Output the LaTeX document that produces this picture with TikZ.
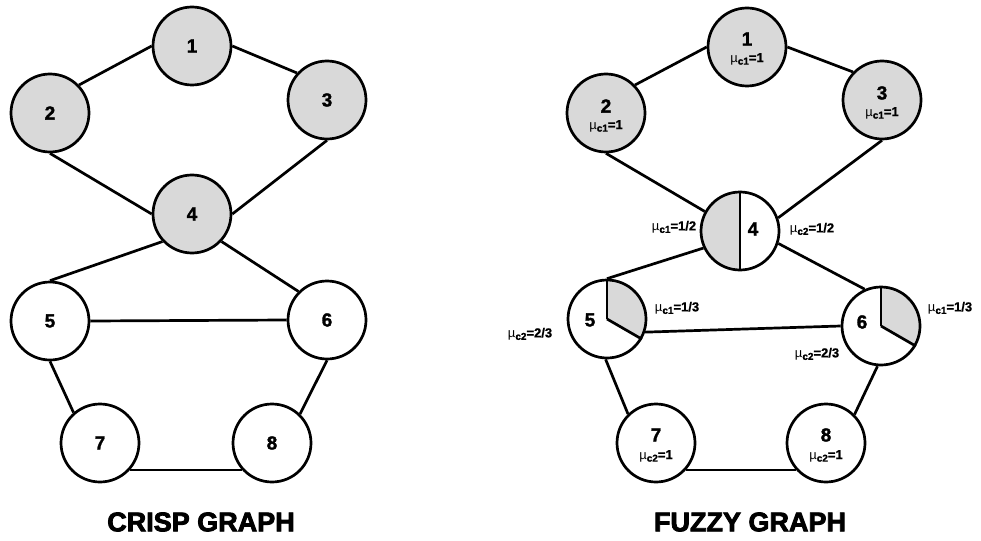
\documentclass[tikz,border=0pt]{standalone}
\usepackage{fontspec}
\setmainfont{Liberation Sans}
\newfontfamily\heavyfont[FakeBold=3]{Liberation Sans Bold}
\newfontfamily\numfont[FakeBold=1.5]{Liberation Sans Bold}
\newfontfamily\memfont[FakeBold=1]{Liberation Sans Bold}
\usetikzlibrary{calc}
\definecolor{nodegray}{HTML}{D9D9D9}
% membership label: mu, bold subscript, bold value
\newcommand\memb[2]{{\fontsize{13}{13}\selectfont\textmu\raisebox{-2.5pt}{\fontsize{10}{10}\memfont #1}\memfont=#2}}
\tikzset{
  vtx/.style={circle, draw=black, line width=2.7pt, minimum size=78pt, inner sep=0pt},
  gvtx/.style={vtx, fill=nodegray},
  num/.style={font=\numfont\fontsize{19}{19}\selectfont, inner sep=0pt},
  memlab/.style={inner sep=0pt},
  edge/.style={line width=2.7pt},
  title/.style={font=\heavyfont\fontsize{27}{27}\selectfont, inner sep=0pt}
}
\begin{document}
\begin{tikzpicture}[x=1pt,y=-1pt]
\useasboundingbox (0,0) rectangle (981,540);

% ---------- crisp graph ----------
\node[gvtx] (a1) at (192,46) {};
\node[gvtx] (a2) at (50,113) {};
\node[gvtx] (a3) at (327,100) {};
\node[gvtx] (a4) at (192,214) {};
\node[vtx]  (a5) at (50,321) {};
\node[vtx]  (a6) at (327,320) {};
\node[vtx]  (a7) at (100,443) {};
\node[vtx]  (a8) at (272,443) {};
\foreach \i in {1,...,8} \node[num] (a\i t) at (a\i) {\i};

\draw[edge] (a1.180) -- (a2.44);
\draw[edge] (a1.0) -- (a3.138);
\draw[edge] (a2.270) -- (a4.180);
\draw[edge] (a3.270) -- (a4.0);
\draw[edge] (a4.223) -- (a5.90);
\draw[edge] (a4.317) -- (a6.135);
\draw[edge] (a5.0) -- (a6.180);
\draw[edge] (a5.270) -- (a7.131);
\draw[edge] (a6.270) -- (a8.46);
\draw[edge] (a7.-42) -- (a8.222);

\node[title] (crisp) at (201,522) {CRISP GRAPH};

% ---------- fuzzy graph ----------
\node[gvtx] (b1) at (747,47) {};
\node[gvtx] (b2) at (606,113) {};
\node[gvtx] (b3) at (882,100) {};
\node[vtx, path picture={\fill[nodegray,y=1pt] (path picture bounding box.center) -- ++(90:50pt) arc[start angle=90,end angle=270,radius=50pt] -- cycle;}] (b4) at (740,231) {};
\node[vtx, path picture={\fill[nodegray,y=1pt] (path picture bounding box.center) -- ++(90:50pt) arc[start angle=90,end angle=-30,radius=50pt] -- cycle;}] (b5) at (607,319) {};
\node[vtx, path picture={\fill[nodegray,y=1pt] (path picture bounding box.center) -- ++(90:50pt) arc[start angle=90,end angle=-30,radius=50pt] -- cycle;}] (b6) at (881,326) {};
\node[vtx] (b7) at (656,443) {};
\node[vtx] (b8) at (826,443) {};

% sector dividers
\draw[edge] (b4.90) -- (b4.270);
\draw[edge] (b5.center) -- (b5.90);
\draw[edge] (b5.center) -- (b5.-30);
\draw[edge] (b6.center) -- (b6.90);
\draw[edge] (b6.center) -- (b6.-30);

% vertex numbers
\node[num] (b1t) at ($(b1)+(0,-8)$) {1};
\node[num] (b2t) at ($(b2)+(0,-7)$) {2};
\node[num] (b3t) at ($(b3)+(0,-7)$) {3};
\node[num] (b4t) at (753,229) {4};
\node[num] (b5t) at (590,320) {5};
\node[num] (b6t) at (862,322) {6};
\node[num] (b7t) at ($(b7)+(0,-8)$) {7};
\node[num] (b8t) at ($(b8)+(0,-8)$) {8};

% membership degrees
\node[memlab] (m1) at ($(b1)+(0,12)$) {\memb{c1}{1}};
\node[memlab] (m2) at ($(b2)+(0,13)$) {\memb{c1}{1}};
\node[memlab] (m3) at ($(b3)+(0,13)$) {\memb{c1}{1}};
\node[memlab] (m4a) at (674,227) {\memb{c1}{1/2}};
\node[memlab] (m4b) at (812,229) {\memb{c2}{1/2}};
\node[memlab] (m5a) at (677,308) {\memb{c1}{1/3}};
\node[memlab] (m5b) at (530,334) {\memb{c2}{2/3}};
\node[memlab] (m6a) at (950,308) {\memb{c1}{1/3}};
\node[memlab] (m6b) at (817,354) {\memb{c2}{2/3}};
\node[memlab] (m7) at ($(b7)+(0,13)$) {\memb{c2}{1}};
\node[memlab] (m8) at ($(b8)+(0,13)$) {\memb{c2}{1}};

\draw[edge] (b1.180) -- (b2.44);
\draw[edge] (b1.0) -- (b3.136);
\draw[edge] (b2.270) -- (b4.151);
\draw[edge] (b3.270) -- (b4.19);
\draw[edge] (b4.205) -- (b5.90);
\draw[edge] (b4.-18) -- (b6.114);
\draw[edge] (b5.-19) -- (b6.180);
\draw[edge] (b5.268) -- (b7.134);
\draw[edge] (b6.265) -- (b8.45);
\draw[edge] (b7.-42) -- (b8.222);

\node[title] (fuzzy) at (750,522) {FUZZY GRAPH};
\end{tikzpicture}
\end{document}
